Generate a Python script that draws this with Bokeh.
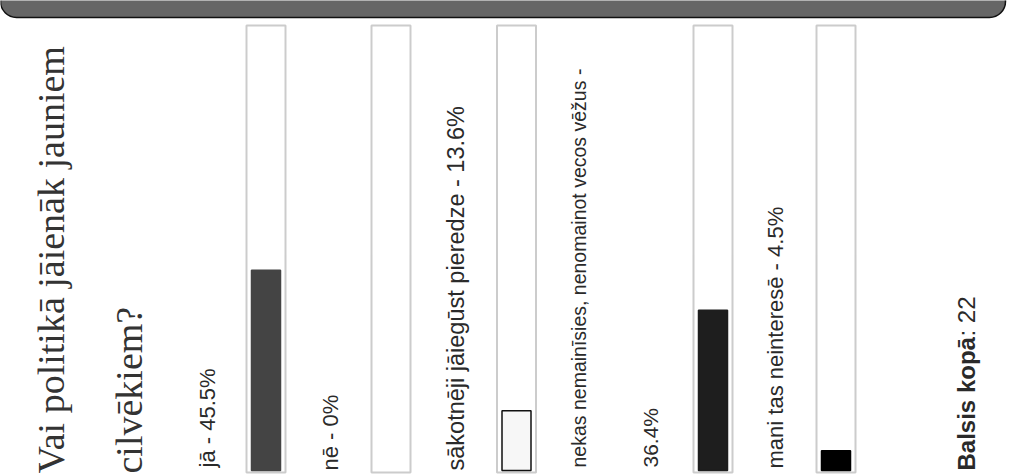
from math import pi
from bokeh.plotting import figure
from bokeh.models import Range1d, ColumnDataSource
from bokeh.core.properties import value
from bokeh.embed import file_html
from bokeh.resources import INLINE

# ---- data ----
question_lines = ["Vai politikā jāienāk jauniem", "cilvēkiem?"]
options = ["jā", "nē", "sākotnēji jāiegūst pieredze",
           "nekas nemainīsies, nenomainot vecos vēžus", "mani tas neinteresē"]
percent = [45.5, 0.0, 13.6, 36.4, 4.5]
total_label = "Balsis kopā"
total_votes = 22

# ---- layout / style (pixel space) ----
bar_x = [265.5, 390.5, 516.0, 712.5, 835.5]
label_x = [207, 330, 455, 578, 775]
label_sizes = ["22px", "22px", "23.5px", "19.5px", "22px"]
fill_colors = ["#444444", "#444444", "#f7f7f7", "#1e1e1e", "#000000"]
line_colors = ["#444444", "#444444", "#111111", "#1e1e1e", "#000000"]
label_font = value("'Liberation Sans', Arial, sans-serif")

p = figure(width=1009, height=476, x_range=Range1d(0, 1009), y_range=Range1d(476, 0),
           output_backend="svg", toolbar_location=None, min_border=0,
           x_axis_location=None, y_axis_location=None)
p.grid.visible = False
p.outline_line_color = None
p.background_fill_color = "white"
p.border_fill_color = "white"
p.styles = {"position": "absolute", "left": "0px", "top": "0px"}

# percent scale: 0 -> y=470 px, 100 -> y=30 px
p.extra_y_ranges = {"pct": Range1d(-6 / 4.4, 470 / 4.4)}

# banner
p.quad(left=[0], right=[1005], top=[-40], bottom=[17], fill_color="#666666",
       line_color="#111111", line_width=1.5, border_radius=16)

# bar outer boxes
p.quad(left=[x - 19.5 for x in bar_x], right=[x + 19.5 for x in bar_x],
       top=[25] * 5, bottom=[472] * 5, fill_color="white",
       line_color="#cccccc", line_width=2)

# filled bars
src = ColumnDataSource(dict(
    left=[x - 14.5 for x, v in zip(bar_x, percent) if v > 0],
    right=[x + 14.5 for x, v in zip(bar_x, percent) if v > 0],
    top=[v for v in percent if v > 0],
    fill=[c for c, v in zip(fill_colors, percent) if v > 0],
    line=[c for c, v in zip(line_colors, percent) if v > 0],
))
p.quad(left="left", right="right", bottom=0, top="top", source=src,
       fill_color="fill", line_color="line", line_width=1.5, y_range_name="pct")

# question title
p.text(x=[50, 128], y=[473, 473], text=question_lines, angle=pi / 2,
       text_align="left", text_baseline="alphabetic",
       text_font=value("'Liberation Serif', 'Times New Roman', serif"),
       text_font_size="38px", text_color="#333333")

# option labels
labels = [f"{o} - {v:g}%" for o, v in zip(options, percent)]
lab_x = list(label_x)
lab_y = [467, 470, 470, 467, 468]
sizes = list(label_sizes)
# the long label wraps onto a second line
labels[3] = f"{options[3]} -"
labels.append(f"{percent[3]:g}%")
lab_x.append(650)
lab_y.append(467)
sizes.append("21px")
lsrc = ColumnDataSource(dict(x=lab_x, y=lab_y, text=labels, size=sizes))
p.text(x="x", y="y", text="text", source=lsrc, angle=pi / 2, text_align="left",
       text_baseline="alphabetic", text_font=label_font,
       text_font_size="size", text_color="#2a2a2a")

# total
p.text(x=[966], y=[470], text=[total_label], angle=pi / 2, text_align="left",
       text_baseline="alphabetic", text_font=label_font, text_font_style="bold",
       text_font_size="24px", text_color="#2a2a2a")
p.text(x=[966], y=[336], text=[f": {total_votes}"], angle=pi / 2, text_align="left",
       text_baseline="alphabetic", text_font=label_font,
       text_font_size="24px", text_color="#2a2a2a")

open("out.html", "w").write(file_html(p, INLINE))
